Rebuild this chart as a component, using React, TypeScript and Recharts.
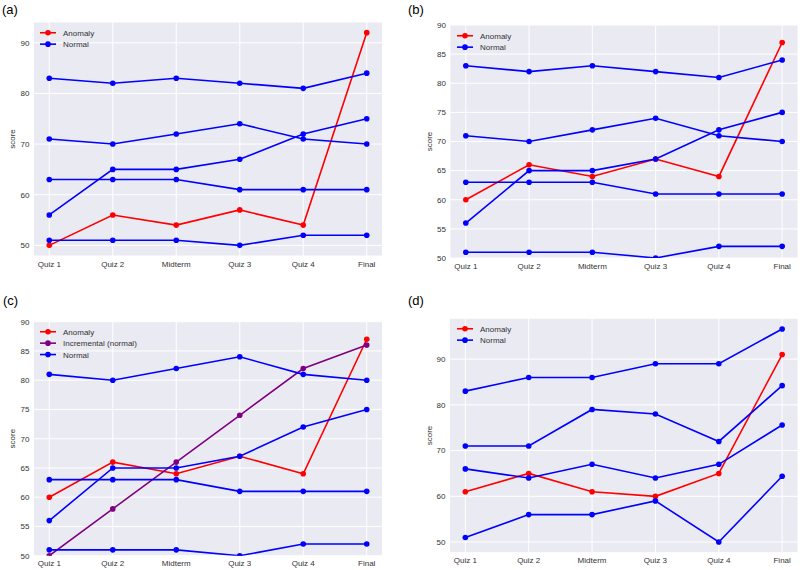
import { CartesianGrid, Legend, Line, LineChart, XAxis, YAxis } from "recharts"

const steps = ["Quiz 1", "Quiz 2", "Midterm", "Quiz 3", "Quiz 4", "Final"]

// panels (a) and (b) share the same five normal students
const normalA1 = [83, 82, 83, 82, 81, 84]
const normalA2 = [71, 70, 72, 74, 71, 70]
const normalA3 = [56, 65, 65, 67, 72, 75]
const normalA4 = [63, 63, 63, 61, 61, 61]
const normalA5 = [51, 51, 51, 50, 52, 52]
const anomalyA = [50, 56, 54, 57, 54, 92]
const anomalyB = [60, 66, 64, 67, 64, 87]

// panel (c)
const normalC1 = [81, 80, 82, 84, 81, 80]
const incrementalC = [50, 58, 66, 74, 82, 86]

// panel (d)
const normalD1 = [83, 86, 86, 89, 89, 96.6]
const normalD2 = [71, 71, 79, 78, 72, 84.2]
const normalD3 = [66, 64, 67, 64, 67, 75.6]
const normalD4 = [51, 56, 56, 59, 50, 64.4]
const anomalyD = [61, 65, 61, 60, 65, 91]

const RED = "#ff0000"
const BLUE = "#0000ff"
const PURPLE = "#800080"
const FONT = "'Liberation Sans', Arial, sans-serif"

const W = 400
const H = 285
const XH = 20

function LegendBox({ items }) {
  const rowH = 11.4
  return (
    <svg width={160} height={items.length * rowH + 2}>
      {items.map((it, i) => {
        const cy = 5.75 + i * rowH
        return (
          <g key={it.name}>
            <line x1={0} x2={16} y1={cy} y2={cy} stroke={it.color} strokeWidth={1.6} />
            <circle cx={8} cy={cy} r={2.8} fill={it.color} />
            <text x={23} y={cy + 3} fontSize={8} fill="#333" fontFamily={FONT}>
              {it.name}
            </text>
          </g>
        )
      })}
    </svg>
  )
}

function Panel({ x, y, tag, plot, domain, ticks, series, legend }) {
  const data = steps.map((s, i) => {
    const row = { idx: i }
    series.forEach((sr) => (row[sr.key] = sr.values[i]))
    return row
  })
  return (
    <div style={{ position: "absolute", left: x, top: y, width: W, height: H }}>
      <div
        style={{
          position: "absolute",
          left: tag.x,
          top: tag.y,
          fontFamily: FONT,
          fontSize: 13,
          lineHeight: 1,
          color: "#000",
          zIndex: 2,
        }}
      >
        {tag.text}
      </div>
      <LineChart
        width={W}
        height={H}
        data={data}
        margin={{ top: plot.top, right: W - plot.right, left: 0, bottom: H - plot.bottom - XH }}
      >
        <CartesianGrid fill="#eaeaf2" stroke="#ffffff" strokeWidth={1} />
        <XAxis
          type="number"
          dataKey="idx"
          domain={[-0.25, 5.25]}
          ticks={[0, 1, 2, 3, 4, 5]}
          tickFormatter={(i) => steps[i]}
          interval={0}
          allowDataOverflow
          height={XH}
          axisLine={false}
          tickLine={false}
          tickSize={3}
          tickMargin={2}
          tick={{ fontSize: 8, fill: "#333", fontFamily: FONT }}
        />
        <YAxis
          type="number"
          domain={domain}
          ticks={ticks}
          allowDataOverflow
          width={plot.left}
          axisLine={false}
          tickLine={false}
          tickSize={3}
          tickMargin={1}
          tick={{ fontSize: 8, fill: "#333", fontFamily: FONT }}
          label={{
            value: "score",
            angle: -90,
            position: "insideLeft",
            offset: plot.labelX,
            style: { textAnchor: "middle", fontSize: 8, fill: "#333", fontFamily: FONT },
          }}
        />
        <Legend
          layout="vertical"
          align="center"
          verticalAlign="middle"
          wrapperStyle={{ left: plot.left + 7, top: plot.top + 4.75, width: 160 }}
          content={() => <LegendBox items={legend} />}
        />
        {series.map((sr) => (
          <Line
            key={sr.key}
            dataKey={sr.key}
            stroke={sr.color}
            strokeWidth={1.6}
            dot={{ r: 2.8, fill: sr.color, stroke: sr.color, strokeWidth: 0 }}
            activeDot={false}
            isAnimationActive={false}
            legendType="none"
          />
        ))}
      </LineChart>
    </div>
  )
}

const legendAN = [
  { name: "Anomaly", color: RED },
  { name: "Normal", color: BLUE },
]
const legendAIN = [
  { name: "Anomaly", color: RED },
  { name: "Incremental (normal)", color: PURPLE },
  { name: "Normal", color: BLUE },
]

export default function App() {
  return (
    <div style={{ position: "absolute", left: 0, top: 0, width: 800, height: 570, background: "#fff" }}>
      <Panel
        x={0}
        y={0}
        tag={{ text: "(a)", x: 2, y: 3 }}
        plot={{ left: 33.4, right: 382.6, top: 22, bottom: 256, labelX: 12 }}
        domain={[47.9, 94.1]}
        ticks={[50, 60, 70, 80, 90]}
        legend={legendAN}
        series={[
          { key: "anom", values: anomalyA, color: RED },
          { key: "n1", values: normalA1, color: BLUE },
          { key: "n2", values: normalA2, color: BLUE },
          { key: "n3", values: normalA3, color: BLUE },
          { key: "n4", values: normalA4, color: BLUE },
          { key: "n5", values: normalA5, color: BLUE },
        ]}
      />
      <Panel
        x={400}
        y={0}
        tag={{ text: "(b)", x: 8, y: 3 }}
        plot={{ left: 50, right: 398, top: 25, bottom: 258, labelX: 29 }}
        domain={[50, 90]}
        ticks={[50, 55, 60, 65, 70, 75, 80, 85, 90]}
        legend={legendAN}
        series={[
          { key: "anom", values: anomalyB, color: RED },
          { key: "n1", values: normalA1, color: BLUE },
          { key: "n2", values: normalA2, color: BLUE },
          { key: "n3", values: normalA3, color: BLUE },
          { key: "n4", values: normalA4, color: BLUE },
          { key: "n5", values: normalA5, color: BLUE },
        ]}
      />
      <Panel
        x={0}
        y={285}
        tag={{ text: "(c)", x: 3, y: 9 }}
        plot={{ left: 33.4, right: 382.6, top: 36.7, bottom: 270.7, labelX: 12 }}
        domain={[50, 90]}
        ticks={[50, 55, 60, 65, 70, 75, 80, 85, 90]}
        legend={legendAIN}
        series={[
          { key: "anom", values: anomalyB, color: RED },
          { key: "inc", values: incrementalC, color: PURPLE },
          { key: "n1", values: normalC1, color: BLUE },
          { key: "n3", values: normalA3, color: BLUE },
          { key: "n4", values: normalA4, color: BLUE },
          { key: "n5", values: normalA5, color: BLUE },
        ]}
      />
      <Panel
        x={400}
        y={285}
        tag={{ text: "(d)", x: 8, y: 9 }}
        plot={{ left: 49.5, right: 398, top: 33.3, bottom: 267.7, labelX: 29 }}
        domain={[47.67, 98.93]}
        ticks={[50, 60, 70, 80, 90]}
        legend={legendAN}
        series={[
          { key: "anom", values: anomalyD, color: RED },
          { key: "n1", values: normalD1, color: BLUE },
          { key: "n2", values: normalD2, color: BLUE },
          { key: "n3", values: normalD3, color: BLUE },
          { key: "n4", values: normalD4, color: BLUE },
        ]}
      />
    </div>
  )
}
